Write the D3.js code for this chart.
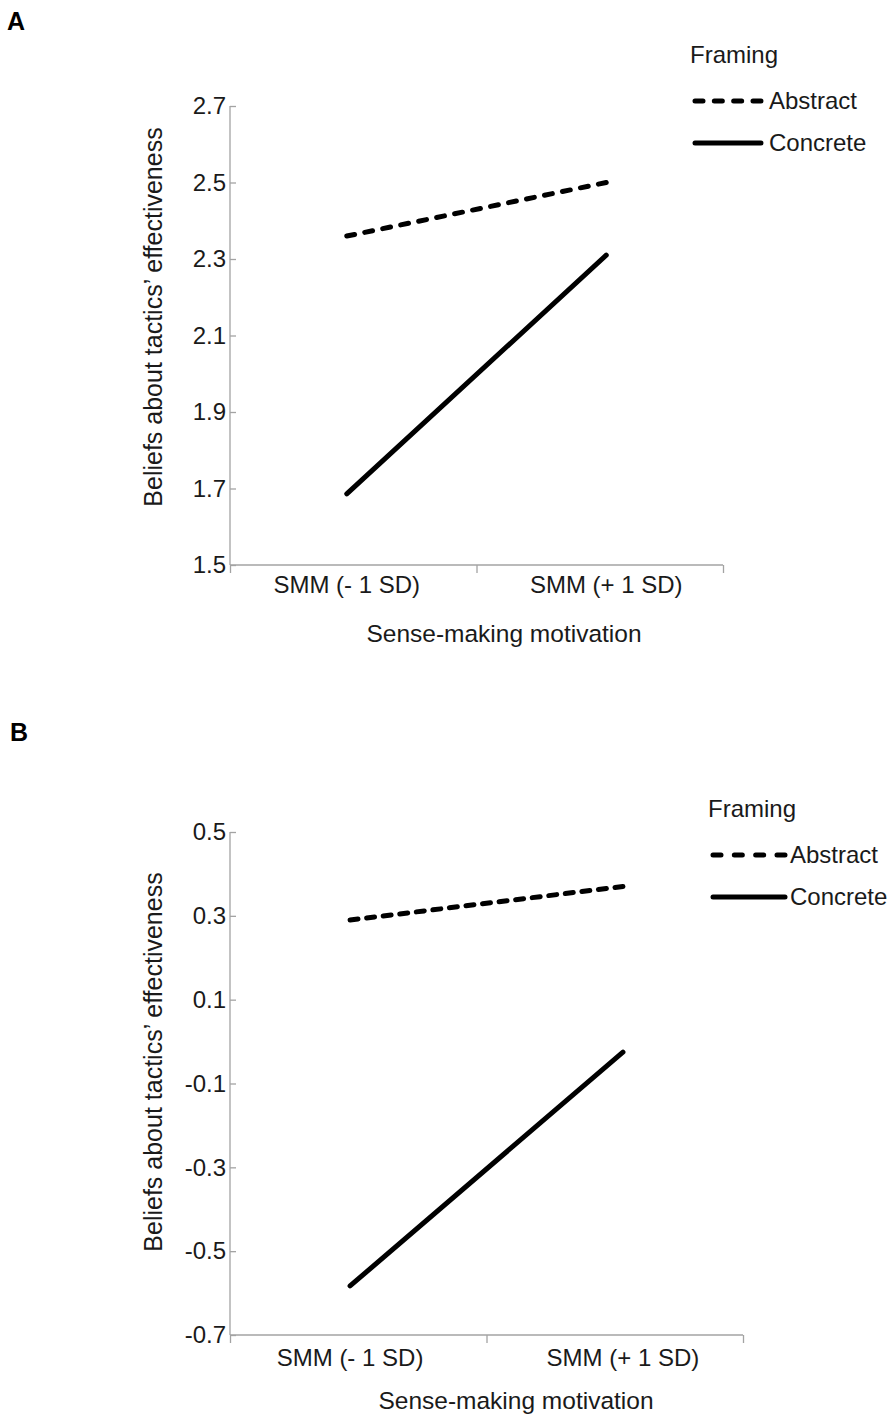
<html lang="en">
<head>
<meta charset="utf-8">
<script src="https://cdn.jsdelivr.net/npm/d3@7"></script>
<style>
body{margin:0;background:#fff;}
text{font-family:"Liberation Sans",Arial,sans-serif;fill:#1a1a1a;}
.axis path,.axis line{stroke:#a3a3a3;stroke-width:1.3;}
.axis text{font-size:24px;fill:#1a1a1a;font-family:"Liberation Sans",Arial,sans-serif;}
</style>
</head>
<body>
<div id="drawarea"></div>
<script>
// data
const categories=["SMM (- 1 SD)","SMM (+ 1 SD)"]
const seriesNames=["Abstract","Concrete"]
const abstractA=[2.36,2.50]
const concreteA=[1.686,2.31]
const abstractB=[0.29,0.37]
const concreteB=[-0.583,-0.025]
const ticksA=[1.5,1.7,1.9,2.1,2.3,2.5,2.7]
const ticksB=[-0.7,-0.5,-0.3,-0.1,0.1,0.3,0.5]
const xTitle="Sense-making motivation"
const yTitle="Beliefs about tactics\u2019 effectiveness"
const legendTitle="Framing"

const W=894,H=1415
const svg=d3.select("#drawarea").append("svg").attr("width",W).attr("height",H)

const dashLen=8

function drawPanel(p){
  const g=svg.append("g")
  const y=d3.scaleLinear().domain(p.yDomain).range(p.yRange)
  const x=d3.scalePoint().domain(categories).range(p.xRange).padding(p.pad)
  const xb=d3.scaleLinear().domain([0,2]).range(p.xRange)

  // panel letter
  g.append("text").attr("x",p.letterX).attr("y",p.letterY).text(p.letter)
    .style("font-size","25px").style("font-weight","bold").style("fill","#000")

  // y axis, ticks pointing inward
  g.append("g").attr("class","axis").attr("transform","translate("+p.xRange[0]+",0)")
    .call(d3.axisLeft(y).tickValues(p.ticks).tickFormat(d=>d.toFixed(1)).tickSizeInner(-6).tickSizeOuter(0).tickPadding(4))
    .call(a=>a.select(".domain").attr("d","M0,"+p.yRange[1]+"V"+p.yRange[0]))

  // x axis with boundary ticks
  const xa=g.append("g").attr("class","axis").attr("transform","translate(0,"+p.yRange[0]+")")
    .call(d3.axisBottom(xb).tickValues([0,1,2]).tickFormat("").tickSizeInner(8).tickSizeOuter(0))
  xa.select(".domain").attr("d","M"+p.xRange[0]+",0H"+p.xRange[1])

  g.selectAll(".cat").data(categories).join("text").attr("class","cat")
    .attr("x",d=>x(d)).attr("y",p.yRange[0]+p.catDy).attr("text-anchor","middle")
    .style("font-size","24px").text(d=>d)

  g.append("text").attr("x",p.xTitleX).attr("y",p.yRange[0]+p.xTitleDy).attr("text-anchor","middle")
    .style("font-size","24.5px").text(xTitle)

  g.append("text").attr("transform","translate(162,"+p.yTitleY+") rotate(-90)")
    .attr("text-anchor","middle").style("font-size","25px").text(yTitle)

  // lines
  const line=d3.line().x((d,i)=>x(categories[i])).y(d=>y(d))
  const series=[p.abstract,p.concrete]
  g.selectAll(".ser").data(series).join("path").attr("class","ser")
    .attr("d",d=>line(d)).attr("fill","none").attr("stroke","#000")
    .attr("stroke-width",5).attr("stroke-linecap","round")
    .attr("stroke-dasharray",function(d,i){
      if(i!=0) return null
      // fit the dash pattern so it starts and ends on a dash
      const L=this.getTotalLength()
      const n=Math.round((L-dashLen)/p.period)
      return dashLen+","+((L-dashLen)/n-dashLen)
    })

  // legend
  const lg=g.append("g").attr("transform","translate("+p.legX+","+p.legY+")")
  lg.append("text").attr("x",-3).attr("y",0).style("font-size","24px").text(legendTitle)
  seriesNames.forEach((s,i)=>{
    const yy=38+i*42
    lg.append("line").attr("x1",2).attr("x2",p.legLen).attr("y1",yy).attr("y2",yy)
      .attr("stroke","#000").attr("stroke-width",5).attr("stroke-linecap","round")
      .attr("stroke-dasharray",i==0?(dashLen+","+((p.legLen-2-dashLen)/3-dashLen)):null)
    lg.append("text").attr("x",p.legLen+p.legGap).attr("y",yy+8).style("font-size","24px").text(s)
  })
}

drawPanel({letter:"A",letterX:7,letterY:30,yDomain:[1.5,2.7],yRange:[565,106],xRange:[230,723],pad:0.45,
  ticks:ticksA,abstract:abstractA,concrete:concreteA,catDy:28,xTitleX:504,xTitleDy:77,yTitleY:317,
  legX:693,legY:63,legLen:68,legGap:8,period:19})
drawPanel({letter:"B",letterX:10,letterY:741,yDomain:[-0.7,0.5],yRange:[1335,832],xRange:[230,743],pad:0.44,
  ticks:ticksB,abstract:abstractB,concrete:concreteB,catDy:31,xTitleX:516,xTitleDy:74,yTitleY:1062,
  legX:711,legY:817,legLen:74,legGap:5,period:16.5})
</script>
</body>
</html>
